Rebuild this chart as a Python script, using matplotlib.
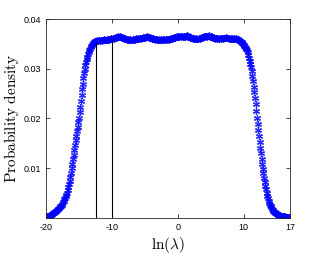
import numpy as np
import matplotlib
matplotlib.use("Agg")
import matplotlib.pyplot as plt

# ln(lambda) grid, step 0.1 from -20 to 17
x = np.round(np.arange(-200, 171) * 0.1, 1)

# rising edge, x = -20.0 .. -12.5
rise = [0.0002, 0.0002, 0.0003, 0.0003, 0.0003, 0.0004, 0.0005, 0.0005, 0.0006, 0.0007,
        0.0008, 0.0009, 0.0010, 0.0011, 0.0012, 0.0013, 0.0014, 0.0016, 0.0017, 0.0018,
        0.0019, 0.0021, 0.0023, 0.0025, 0.0027, 0.0029, 0.0032, 0.0035, 0.0038, 0.0041,
        0.0044, 0.0047, 0.0051, 0.0056, 0.0062, 0.0068, 0.0075, 0.0083, 0.0091, 0.0100,
        0.0109, 0.0118, 0.0127, 0.0137, 0.0147, 0.0156, 0.0165, 0.0174, 0.0183, 0.0192,
        0.0201, 0.0213, 0.0224, 0.0236, 0.0248, 0.0259, 0.0270, 0.0282, 0.0292, 0.0300,
        0.0307, 0.0313, 0.0319, 0.0324, 0.0329, 0.0333, 0.0337, 0.0340, 0.0343, 0.0346,
        0.0348, 0.0350, 0.0352, 0.0353, 0.0354, 0.0355]

# plateau, x = -12.4 .. 8.9
plateau = [0.0356, 0.0355, 0.0357, 0.0356, 0.0357,
           0.0357, 0.0356, 0.0358, 0.0357, 0.0356, 0.0358, 0.0357, 0.0359, 0.0357, 0.0358,
           0.0358, 0.0357, 0.0359, 0.0358, 0.0360, 0.0358, 0.0359, 0.0361, 0.0359, 0.0360,
           0.0360, 0.0361, 0.0359, 0.0362, 0.0361, 0.0363, 0.0362, 0.0364, 0.0363, 0.0365,
           0.0364, 0.0366, 0.0364, 0.0363, 0.0364, 0.0362, 0.0361, 0.0362, 0.0360, 0.0361,
           0.0359, 0.0360, 0.0358, 0.0359, 0.0357, 0.0358, 0.0359, 0.0357, 0.0358, 0.0358,
           0.0357, 0.0359, 0.0358, 0.0360, 0.0358, 0.0359, 0.0361, 0.0360, 0.0359, 0.0361,
           0.0360, 0.0362, 0.0361, 0.0360, 0.0362, 0.0361, 0.0363, 0.0362, 0.0361, 0.0363,
           0.0362, 0.0364, 0.0363, 0.0365, 0.0363, 0.0364, 0.0362, 0.0363, 0.0361, 0.0362,
           0.0360, 0.0361, 0.0359, 0.0360, 0.0358, 0.0359, 0.0360, 0.0358, 0.0359, 0.0357,
           0.0358, 0.0359, 0.0357, 0.0358, 0.0360, 0.0358, 0.0359, 0.0357, 0.0359, 0.0358,
           0.0357, 0.0359, 0.0358, 0.0360, 0.0359, 0.0358, 0.0360, 0.0359, 0.0361, 0.0360,
           0.0361, 0.0360, 0.0362, 0.0361, 0.0363, 0.0362, 0.0364, 0.0363, 0.0365, 0.0364,
           0.0365, 0.0364, 0.0366, 0.0365, 0.0364, 0.0366, 0.0365, 0.0364, 0.0365, 0.0363,
           0.0364, 0.0366, 0.0365, 0.0367, 0.0365, 0.0364, 0.0363, 0.0364, 0.0362, 0.0363,
           0.0361, 0.0362, 0.0360, 0.0361, 0.0359, 0.0360, 0.0361, 0.0359, 0.0360, 0.0359,
           0.0360, 0.0361, 0.0360, 0.0362, 0.0361, 0.0363, 0.0362, 0.0364, 0.0363, 0.0365,
           0.0364, 0.0366, 0.0365, 0.0364, 0.0366, 0.0365, 0.0367, 0.0365, 0.0364, 0.0365,
           0.0363, 0.0364, 0.0362, 0.0363, 0.0361, 0.0362, 0.0360, 0.0361, 0.0362, 0.0360,
           0.0361, 0.0359, 0.0360, 0.0361, 0.0360, 0.0362, 0.0361, 0.0360, 0.0362, 0.0361,
           0.0362, 0.0361, 0.0363, 0.0362, 0.0361, 0.0362, 0.0360, 0.0361, 0.0360, 0.0361,
           0.0360, 0.0361, 0.0359, 0.0360, 0.0361, 0.0359, 0.0360, 0.0361, 0.0360]

# falling edge, x = 9.0 .. 17.0
fall = [0.0360, 0.0359, 0.0358, 0.0357, 0.0356, 0.0355, 0.0354, 0.0353, 0.0352, 0.0350,
        0.0348, 0.0346, 0.0344, 0.0342, 0.0340, 0.0337, 0.0333, 0.0328, 0.0322, 0.0316,
        0.0310, 0.0303, 0.0296, 0.0286, 0.0275, 0.0264, 0.0253, 0.0242, 0.0229, 0.0215,
        0.0201, 0.0189, 0.0177, 0.0165, 0.0153, 0.0141, 0.0130, 0.0119, 0.0109, 0.0099,
        0.0090, 0.0081, 0.0073, 0.0065, 0.0058, 0.0051, 0.0045, 0.0040, 0.0035, 0.0031,
        0.0027, 0.0024, 0.0021, 0.0018, 0.0016, 0.0014, 0.0012, 0.0011, 0.0010, 0.0009,
        0.0008, 0.0007, 0.0006, 0.0006, 0.0005, 0.0005, 0.0004, 0.0004, 0.0004, 0.0003,
        0.0003, 0.0003, 0.0003, 0.0002, 0.0002, 0.0002, 0.0002, 0.0002, 0.0002, 0.0002,
        0.0002]

density = np.array(rise + plateau + fall)

# the two vertical markers
line_x = [-12.4, -10.0]
line_top = [0.0354, 0.0357]

xticks = [-20, -10, 0, 10, 17]
yticks = [0.01, 0.02, 0.03, 0.04]

plt.rcParams['mathtext.fontset'] = 'cm'
plt.rcParams['font.family'] = 'Liberation Sans'

fig = plt.figure(figsize=(3.21, 2.54), dpi=100)
ax = fig.add_axes([0.143, 0.142, 0.760, 0.783])

ax.plot(x, density, linestyle='none', marker=(6, 2, 0), markersize=5,
        markeredgewidth=0.9, color='blue', alpha=0.85)
ax.vlines(line_x, 0, line_top, color='black', linewidth=0.8)

ax.set_xlim(-20, 17)
ax.set_ylim(0, 0.04)
ax.set_xticks(xticks)
ax.set_xticklabels([str(t) for t in xticks])
ax.set_yticks(yticks)
ax.set_yticklabels(['0.01', '0.02', '0.03', '0.04'])
ax.tick_params(direction='in', length=3, width=0.6, labelsize=6.5,
               top=True, right=True, colors='0.15', labelcolor='black')
for s in ax.spines.values():
    s.set_linewidth(0.6)
    s.set_color('0.15')

ax.set_xlabel(r'$\ln(\lambda)$', fontsize=11, labelpad=2)
ax.set_ylabel(r'$\mathrm{Probability\ density}$', fontsize=11, labelpad=2)

fig.savefig('out.png', dpi=100)
